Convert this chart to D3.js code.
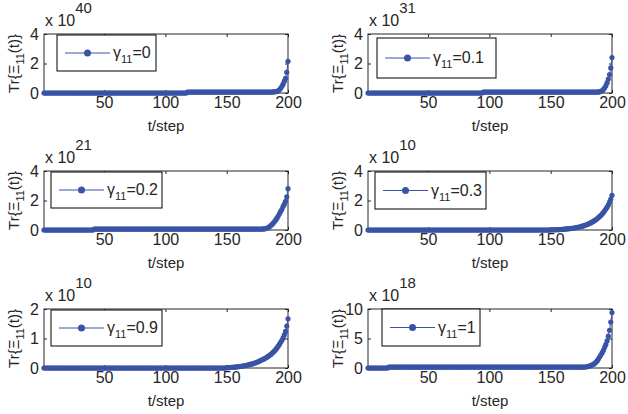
<!DOCTYPE html>
<html>
<head>
<meta charset="utf-8">
<script src="https://cdn.jsdelivr.net/npm/d3@7"></script>
<style>
	body { margin: 0; background: #fff; }
	text { font-family: "Liberation Sans", Arial, sans-serif; fill: #262626; }
</style>
</head>
<body>
<div id="chart"></div>
<script>
// step index of every point
let steps = d3.range(1, 201);

let gammaLabels = ["0", "0.1", "0.2", "0.3", "0.9", "1"];
let exponents = ["40", "31", "21", "10", "10", "18"];
let yTicks = [[0, 2, 4], [0, 2, 4], [0, 2, 4], [0, 2, 4], [0, 1, 2], [0, 5, 10]];
let xTicks = [50, 100, 150, 200];

// Tr values, in units of the panel multiplier (x 10^exp)
let gamma0 = [
	0,0,0,0,0,0,0,0,0,0,0,0,0,0,0,0,0,0,0,0,
	0,0,0,0,0,0,0,0,0,0,0,0,0,0,0,0,0,0,0,0,
	0,0,0,0,0,0,0,0,0,0,0,0,0,0,0,0,0,0,0,0,
	0,0,0,0,0,0,0,0,0,0,0,0,0,0,0,0,0,0,0,0,
	0,0,0,0,0,0,0,0,0,0,0,0,0,0,0,0,0,0,0,0,
	0,0,0,0,0,0,0,0,0,0,0,0,0,0,0,0,0,0.06,0.06,0.06,
	0.06,0.06,0.06,0.06,0.06,0.06,0.06,0.06,0.06,0.06,0.06,0.06,0.06,0.06,0.06,0.06,0.06,0.06,0.06,0.06,
	0.06,0.06,0.06,0.06,0.06,0.06,0.06,0.06,0.06,0.06,0.06,0.06,0.06,0.06,0.06,0.06,0.06,0.06,0.06,0.06,
	0.06,0.06,0.06,0.06,0.06,0.06,0.06,0.06,0.06,0.06,0.06,0.06,0.06,0.06,0.06,0.06,0.06,0.06,0.06,0.06,
	0.06,0.06,0.06,0.06,0.06,0.06,0.065,0.07,0.08,0.09,0.11,0.15,0.22,0.32,0.45,0.6,0.8,1.0,1.4,2.15
];
let gamma01 = [
	0,0,0,0,0,0,0,0,0,0,0,0,0,0,0,0,0,0,0,0,
	0,0,0,0,0,0,0,0,0,0,0,0,0,0,0,0,0,0,0,0,
	0,0,0,0,0,0,0,0,0,0,0,0,0,0,0,0,0,0,0,0,
	0,0,0,0,0,0,0,0,0,0,0,0,0,0,0,0,0,0,0,0,
	0,0,0,0,0,0,0,0,0,0,0,0,0,0,0.06,0.06,0.06,0.06,0.06,0.06,
	0.06,0.06,0.06,0.06,0.06,0.06,0.06,0.06,0.06,0.06,0.06,0.06,0.06,0.06,0.06,0.06,0.06,0.06,0.06,0.06,
	0.06,0.06,0.06,0.06,0.06,0.06,0.06,0.06,0.06,0.06,0.06,0.06,0.06,0.06,0.06,0.06,0.06,0.06,0.06,0.06,
	0.06,0.06,0.06,0.06,0.06,0.06,0.06,0.06,0.06,0.06,0.06,0.06,0.06,0.06,0.06,0.06,0.06,0.06,0.06,0.06,
	0.06,0.06,0.06,0.06,0.06,0.06,0.06,0.06,0.06,0.06,0.06,0.06,0.06,0.06,0.06,0.06,0.06,0.06,0.06,0.06,
	0.06,0.06,0.06,0.06,0.06,0.06,0.06,0.06,0.07,0.08,0.11,0.16,0.24,0.35,0.5,0.7,0.95,1.25,1.7,2.4
];
let gamma02 = [
	0,0,0,0,0,0,0,0,0,0,0,0,0,0,0,0,0,0,0,0,
	0,0,0,0,0,0,0,0,0,0,0,0,0,0,0,0,0,0,0,0,
	0,0.06,0.06,0.06,0.06,0.06,0.06,0.06,0.06,0.06,0.06,0.06,0.06,0.06,0.06,0.06,0.06,0.06,0.06,0.06,
	0.06,0.06,0.06,0.06,0.06,0.06,0.06,0.06,0.06,0.06,0.06,0.06,0.06,0.06,0.06,0.06,0.06,0.06,0.06,0.06,
	0.06,0.06,0.06,0.06,0.06,0.06,0.06,0.06,0.06,0.06,0.06,0.06,0.06,0.06,0.06,0.06,0.06,0.06,0.06,0.06,
	0.06,0.06,0.06,0.06,0.06,0.06,0.06,0.06,0.06,0.06,0.06,0.06,0.06,0.06,0.06,0.06,0.06,0.06,0.06,0.06,
	0.06,0.06,0.06,0.06,0.06,0.06,0.06,0.06,0.06,0.06,0.06,0.06,0.06,0.06,0.06,0.06,0.06,0.06,0.06,0.06,
	0.06,0.06,0.06,0.06,0.06,0.06,0.06,0.06,0.06,0.06,0.06,0.06,0.06,0.06,0.06,0.06,0.06,0.06,0.06,0.06,
	0.06,0.06,0.06,0.06,0.06,0.06,0.06,0.06,0.06,0.06,0.06,0.06,0.06,0.06,0.06,0.06,0.06,0.06,0.06,0.07,
	0.08,0.1,0.13,0.17,0.23,0.3,0.38,0.47,0.57,0.68,0.8,0.95,1.1,1.25,1.4,1.6,1.75,1.95,2.25,2.8
];
let gamma03 = [
	0,0,0,0,0,0,0,0,0,0,0,0,0,0,0,0,0,0,0,0,
	0,0,0,0,0,0,0,0,0,0,0,0,0,0,0,0,0,0,0,0,
	0,0,0,0,0,0,0,0,0,0,0,0,0,0,0,0,0,0,0,0,
	0,0,0,0,0,0,0,0,0,0,0,0,0,0,0,0,0,0,0,0,
	0,0,0,0,0,0,0,0,0,0,0,0,0,0,0,0,0,0,0,0,
	0,0,0,0,0,0,0,0,0,0,0,0,0,0,0,0,0,0,0,0,
	0,0,0,0,0,0,0,0,0,0,0,0,0,0,0,0,0,0,0,0,
	0,0,0,0,0,0,0,0,0,0.01,0.012,0.014,0.016,0.018,0.02,0.025,0.03,0.035,0.04,0.05,
	0.055,0.06,0.07,0.08,0.09,0.1,0.11,0.12,0.135,0.15,0.165,0.18,0.2,0.22,0.24,0.26,0.29,0.32,0.35,0.38,
	0.42,0.46,0.5,0.55,0.6,0.65,0.71,0.78,0.85,0.92,1.0,1.09,1.19,1.3,1.42,1.55,1.7,1.9,2.1,2.35
];
let gamma09 = [
	0,0,0,0,0,0,0,0,0,0,0,0,0,0,0,0,0,0,0,0,
	0,0,0,0,0,0,0,0,0,0,0,0,0,0,0,0,0,0,0,0,
	0,0,0,0,0,0,0,0,0,0,0,0,0,0,0,0,0,0,0,0,
	0,0,0,0,0,0,0,0,0,0,0,0,0,0,0,0,0,0,0,0,
	0,0,0,0,0,0,0,0,0,0,0,0,0,0,0,0,0,0,0,0,
	0,0,0,0,0,0,0,0,0,0,0,0,0,0,0,0,0,0,0,0,
	0,0,0,0,0,0,0,0,0,0,0,0,0,0,0,0,0,0,0,0,
	0,0,0,0,0,0,0,0,0,0.01,0.012,0.014,0.017,0.02,0.024,0.028,0.032,0.037,0.042,0.048,
	0.054,0.06,0.067,0.075,0.083,0.092,0.1,0.11,0.12,0.13,0.14,0.155,0.17,0.185,0.2,0.22,0.24,0.26,0.28,0.3,
	0.32,0.345,0.37,0.4,0.43,0.46,0.5,0.54,0.58,0.63,0.68,0.74,0.8,0.87,0.94,1.02,1.12,1.24,1.42,1.67
];
let gamma1 = [
	0,0,0,0,0,0,0,0,0,0,0,0,0,0,0,0,0,0.15,0.15,0.15,
	0.15,0.15,0.15,0.15,0.15,0.15,0.15,0.15,0.15,0.15,0.15,0.15,0.15,0.15,0.15,0.15,0.15,0.15,0.15,0.15,
	0.15,0.15,0.15,0.15,0.15,0.15,0.15,0.15,0.15,0.15,0.15,0.15,0.15,0.15,0.15,0.15,0.15,0.15,0.15,0.15,
	0.15,0.15,0.15,0.15,0.15,0.15,0.15,0.15,0.15,0.15,0.15,0.15,0.15,0.15,0.15,0.15,0.15,0.15,0.15,0.15,
	0.15,0.15,0.15,0.15,0.15,0.15,0.15,0.15,0.15,0.15,0.15,0.15,0.15,0.15,0.15,0.15,0.15,0.15,0.15,0.15,
	0.15,0.15,0.15,0.15,0.15,0.15,0.15,0.15,0.15,0.15,0.15,0.15,0.15,0.15,0.15,0.15,0.15,0.15,0.15,0.15,
	0.15,0.15,0.15,0.15,0.15,0.15,0.15,0.15,0.15,0.15,0.15,0.15,0.15,0.15,0.15,0.15,0.15,0.15,0.15,0.15,
	0.15,0.15,0.15,0.15,0.15,0.15,0.15,0.15,0.15,0.15,0.15,0.15,0.15,0.15,0.15,0.15,0.15,0.15,0.15,0.15,
	0.15,0.15,0.15,0.15,0.15,0.15,0.15,0.15,0.15,0.15,0.15,0.15,0.15,0.15,0.15,0.15,0.15,0.17,0.2,0.25,
	0.3,0.36,0.45,0.55,0.65,0.8,1.0,1.25,1.55,1.9,2.25,2.6,3.0,3.5,4.0,4.6,5.4,6.4,7.8,9.4
];

let seriesList = [gamma0, gamma01, gamma02, gamma03, gamma09, gamma1];

// LAYOUT
let blue = "#3953a6";
let colX = [44, 368];
let rowY = [34, 171, 309];
let plotW = 244, plotH = 59;
// legend box offsets relative to each panel's top-left
let legendBoxes = [
	{dx: 13, dy: 1, w: 99, h: 36},
	{dx: 9, dy: 4, w: 119, h: 40},
	{dx: 7, dy: 1, w: 111, h: 36},
	{dx: 7, dy: 1, w: 111, h: 37},
	{dx: 7, dy: 1, w: 111, h: 36},
	{dx: 14, dy: 0, w: 98, h: 37}
];

let svg = d3.select("#chart").append("svg")
	.attr("width", 628)
	.attr("height", 414);

seriesList.forEach(function(values, i) {
	let px = colX[i % 2];
	let py = rowY[Math.floor(i / 2)];
	let ticks = yTicks[i];

	let g = svg.append("g")
		.attr("transform", "translate(" + px + "," + py + ")");

	let xScale = d3.scaleLinear()
		.domain([1, 200])
		.range([0, plotW]);

	let yScale = d3.scaleLinear()
		.domain([0, ticks[ticks.length - 1]])
		.range([plotH, 0]);

	// axes with inward ticks
	let xAxis = d3.axisBottom(xScale).tickValues(xTicks).tickSize(-3).tickPadding(4);
	let yAxis = d3.axisLeft(yScale).tickValues(ticks).tickFormat(d => d).tickSize(-3).tickPadding(5);

	let gx = g.append("g")
		.attr("transform", "translate(0," + plotH + ")")
		.call(xAxis);
	let gy = g.append("g").call(yAxis);

	g.append("g").call(d3.axisTop(xScale).tickValues(xTicks).tickSize(-3).tickFormat(""));
	g.append("g").attr("transform", "translate(" + plotW + ",0)")
		.call(d3.axisRight(yScale).tickValues(ticks).tickSize(-3).tickFormat(""));

	g.selectAll(".domain").remove();
	g.selectAll(".tick line").attr("stroke", "#262626");
	[gx, gy].forEach(a => a.selectAll("text")
		.style("font-size", "16px")
		.style("font-family", "'Liberation Sans', Arial, sans-serif")
		.attr("fill", "#262626"));

	g.append("rect")
		.attr("width", plotW)
		.attr("height", plotH)
		.attr("fill", "none")
		.attr("stroke", "#262626")
		.attr("stroke-width", 1);

	// line + markers
	let line = d3.line()
		.x((d, k) => xScale(steps[k]))
		.y(d => yScale(d));

	g.append("path")
		.datum(values)
		.attr("d", line)
		.attr("fill", "none")
		.attr("stroke", blue)
		.attr("stroke-width", 1);

	g.selectAll(".dot")
		.data(values)
		.enter()
		.append("circle")
		.attr("class", "dot")
		.attr("cx", (d, k) => xScale(steps[k]))
		.attr("cy", d => yScale(d))
		.attr("r", 2.6)
		.attr("fill", blue);

	// multiplier label
	let mult = g.append("text")
		.attr("x", 1)
		.attr("y", -8)
		.style("font-size", "16px")
		.text("x 10");
	mult.append("tspan")
		.attr("dy", -13)
		.style("font-size", "15px")
		.text(exponents[i]);

	// x label
	g.append("text")
		.attr("x", plotW / 2)
		.attr("y", plotH + 38)
		.attr("text-anchor", "middle")
		.style("font-size", "15px")
		.text("t/step");

	// y label
	let ylab = g.append("text")
		.attr("transform", "translate(-25," + (plotH / 2) + ")rotate(-90)")
		.attr("text-anchor", "middle")
		.style("font-size", "15px")
		.text("Tr{\u039E");
	ylab.append("tspan").attr("dy", 5).style("font-size", "11px").text("11");
	ylab.append("tspan").attr("dy", -5).text("(t)}");

	// legend
	let lb = legendBoxes[i];
	let leg = g.append("g")
		.attr("transform", "translate(" + lb.dx + "," + lb.dy + ")");
	leg.append("rect")
		.attr("width", lb.w)
		.attr("height", lb.h)
		.attr("fill", "#fff")
		.attr("stroke", "#000")
		.attr("stroke-width", 1);
	leg.append("line")
		.attr("x1", 8)
		.attr("x2", 53)
		.attr("y1", lb.h / 2)
		.attr("y2", lb.h / 2)
		.attr("stroke", blue)
		.attr("stroke-width", 1);
	leg.append("circle")
		.attr("cx", 30.5)
		.attr("cy", lb.h / 2)
		.attr("r", 3.5)
		.attr("fill", blue);
	let lt = leg.append("text")
		.attr("x", 56)
		.attr("y", lb.h / 2 + 5)
		.style("font-size", "16px")
		.text("\u03B3");
	lt.append("tspan").attr("dy", 5).style("font-size", "11px").text("11");
	lt.append("tspan").attr("dy", -5).text("=" + gammaLabels[i]);
});
</script>
</body>
</html>
